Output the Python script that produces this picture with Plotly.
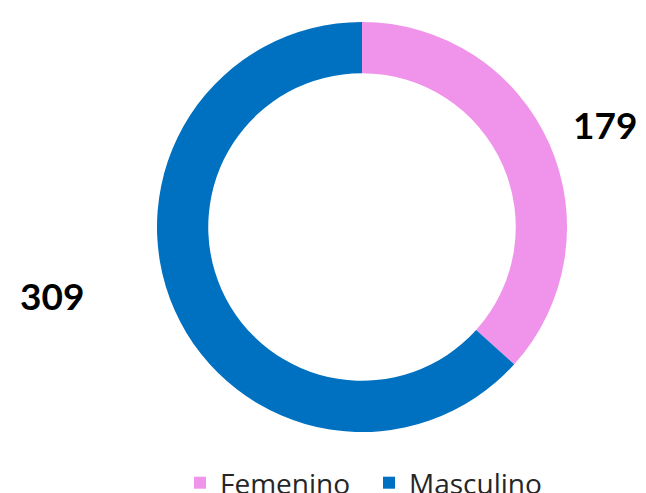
import plotly.graph_objects as go

categories = ["Femenino", "Masculino"]
values = [179, 309]
colors = ["#F093EA", "#0070C0"]

W, H = 646, 493
OFF = 8  # page body margin offset in the browser
fig = go.Figure(go.Pie(
    labels=categories, values=values, sort=False, direction="clockwise",
    rotation=0, hole=0.75, textinfo="none", hoverinfo="label+value",
    marker=dict(colors=colors, line=dict(width=0)),
    domain=dict(x=[(157 - OFF) / W, (567 - OFF) / W],
                y=[(H - (432 - OFF)) / H, (H - (22 - OFF)) / H]),
))

label_pos = [(605, 124), (52, 295)]
for v, (px, py) in zip(values, label_pos):
    fig.add_annotation(x=(px - OFF) / W, y=1 - (py - OFF) / H, xref="paper", yref="paper",
                       xanchor="center", yanchor="middle",
                       text=f"<b>{v}</b>", showarrow=False,
                       font=dict(family="Lato", size=37, weight=900, color="#000000"))

fig.update_layout(
    width=W, height=H, margin=dict(l=0, r=0, t=0, b=0, autoexpand=False),
    paper_bgcolor="white", plot_bgcolor="white",
    showlegend=True,
    legend=dict(orientation="h", x=(369 - OFF) / W, xanchor="center",
                y=1 - (483 - OFF) / H, yanchor="middle",
                font=dict(family="Open Sans", size=28, color="#262626"),
                traceorder="normal", itemsizing="constant", entrywidth=144),
)
fig.write_html("out.html")
